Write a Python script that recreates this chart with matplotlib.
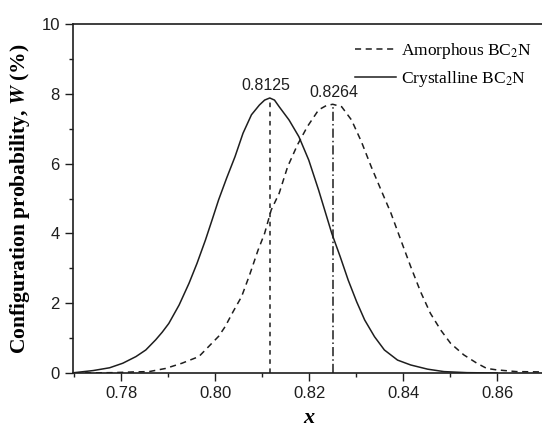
import numpy as np
import matplotlib.pyplot as plt
from matplotlib.ticker import MultipleLocator

plt.rcParams['mathtext.fontset'] = 'stix'

# crystalline BC2N (solid line)
x_cry = [0.7700, 0.7740, 0.7775, 0.7803, 0.7831, 0.7852, 0.7873, 0.7887, 0.7901,
         0.7923, 0.7944, 0.7961, 0.7979, 0.7993, 0.8007, 0.8024, 0.8042, 0.8059,
         0.8077, 0.8094, 0.8105, 0.8116, 0.8126, 0.8136, 0.8157, 0.8178, 0.8199,
         0.8220, 0.8234, 0.8248, 0.8266, 0.8283, 0.8301, 0.8318, 0.8339, 0.8360,
         0.8388, 0.8416, 0.8452, 0.8487, 0.8536, 0.8600]
w_cry = [0.01, 0.07, 0.15, 0.28, 0.47, 0.66, 0.95, 1.17, 1.42,
         1.95, 2.57, 3.14, 3.81, 4.38, 4.96, 5.58, 6.20, 6.87,
         7.40, 7.68, 7.82, 7.88, 7.82, 7.63, 7.25, 6.77, 6.10,
         5.24, 4.62, 4.00, 3.33, 2.66, 2.04, 1.52, 1.04, 0.66,
         0.37, 0.23, 0.11, 0.04, 0.01, 0.0]

# amorphous BC2N (dashed line)
x_amo = [0.7700, 0.7782, 0.7824, 0.7859, 0.7894, 0.7929, 0.7965, 0.7986, 0.8007,
         0.8021, 0.8038, 0.8056, 0.8073, 0.8091, 0.8105, 0.8119, 0.8136, 0.8154,
         0.8175, 0.8196, 0.8220, 0.8236, 0.8250, 0.8269, 0.8290, 0.8311, 0.8332,
         0.8353, 0.8374, 0.8395, 0.8416, 0.8437, 0.8458, 0.8480, 0.8501, 0.8529,
         0.8557, 0.8578, 0.8599, 0.8641, 0.8700]
w_amo = [0.0, 0.01, 0.03, 0.04, 0.13, 0.28, 0.47, 0.76, 1.05,
         1.33, 1.76, 2.19, 2.81, 3.52, 4.00, 4.67, 5.15, 5.91,
         6.54, 7.06, 7.54, 7.66, 7.70, 7.63, 7.25, 6.63, 5.91,
         5.24, 4.58, 3.81, 3.05, 2.33, 1.71, 1.23, 0.85, 0.52,
         0.28, 0.13, 0.09, 0.04, 0.03]

peak_x = [0.8116, 0.8250]
peak_w = [7.88, 7.70]
peak_labels = ['0.8125', '0.8264']
label_x = [0.8108, 0.8252]
label_w = [8.02, 7.82]

ink = '#1e1e1e'

fig = plt.figure(figsize=(5.42, 4.29), dpi=100)
ax = fig.add_axes([73/542, 56/429, 472/542, 349/429])

ax.plot(x_amo, w_amo, color=ink, lw=1.1, ls=(0, (4, 3)),
        label='Amorphous BC$_{2}$N')
ax.plot(x_cry, w_cry, color=ink, lw=1.1, label='Crystalline BC$_{2}$N')

ax.plot([peak_x[0], peak_x[0]], [0, peak_w[0]], color=ink, lw=1.1,
        ls=(0, (3, 3)))
ax.plot([peak_x[1], peak_x[1]], [0, peak_w[1]], color=ink, lw=1.1,
        ls=(0, (6, 2, 1, 2)))
for lx, lw_, txt in zip(label_x, label_w, peak_labels):
    ax.text(lx, lw_, txt, ha='center', va='bottom', fontsize=11.5,
            family='Liberation Sans', color=ink)

ax.set_xlim(0.7697, 0.8702)
ax.set_ylim(0, 10)
ax.set_xticks([0.78, 0.80, 0.82, 0.84, 0.86])
ax.set_xticklabels(['0.78', '0.80', '0.82', '0.84', '0.86'])
ax.set_xticks([0.77, 0.79, 0.81, 0.83, 0.85, 0.87], minor=True)
ax.yaxis.set_major_locator(MultipleLocator(2))
ax.yaxis.set_minor_locator(MultipleLocator(1))
ax.tick_params(which='both', direction='out', top=False, right=False,
               labelsize=12, colors=ink, width=1.0)
ax.tick_params(which='major', length=6)
ax.tick_params(which='minor', length=3)
for lab in ax.get_xticklabels() + ax.get_yticklabels():
    lab.set_family('Liberation Sans')
for s in ax.spines.values():
    s.set_color(ink)
    s.set_linewidth(1.2)

ax.set_xlabel('x', fontsize=16, family='Liberation Serif', fontweight='bold',
              fontstyle='italic', labelpad=5)
ax.set_ylabel(r'Configuration probability, $\mathbfit{W}$ (%)', fontsize=15.5,
              family='Liberation Serif', fontweight='bold', labelpad=7)

ax.legend(loc='upper right', bbox_to_anchor=(1.005, 0.995), frameon=False,
          handlelength=2.4, handletextpad=0.25, labelspacing=0.45,
          prop={'family': 'Liberation Serif', 'size': 12.5})

fig.savefig('out.png', dpi=100)
